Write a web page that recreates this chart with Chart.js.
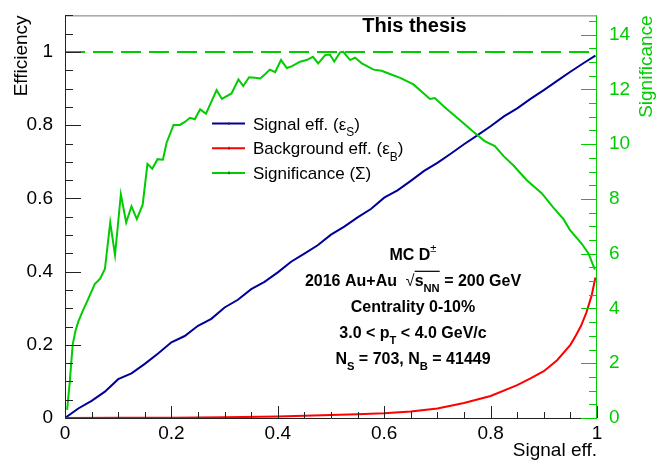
<!DOCTYPE html>
<html lang="en">
<head>
    <meta charset="UTF-8" />
    <title>Efficiency and significance vs signal efficiency</title>
    <script src="https://cdn.jsdelivr.net/npm/chart.js"></script>
    <style>
        body { margin: 0; background: #fff; }
        #wrap { width: 656px; height: 468px; position: relative; }
    </style>
</head>
<body>
<div id="wrap"><canvas id="grafico"></canvas></div>

<script>
    // === data ===
    const signalX   = [0, 0.025, 0.05, 0.075, 0.1, 0.125, 0.15, 0.175, 0.2, 0.225, 0.25, 0.275, 0.3, 0.325, 0.35, 0.375, 0.4, 0.425, 0.45, 0.475, 0.5, 0.525, 0.55, 0.575, 0.6, 0.625, 0.65, 0.675, 0.7, 0.725, 0.75, 0.775, 0.8, 0.825, 0.85, 0.875, 0.9, 0.925, 0.95, 0.975, 0.997];
    const signalEff = [0, 0.026, 0.047, 0.072, 0.106, 0.122, 0.148, 0.176, 0.207, 0.224, 0.252, 0.271, 0.302, 0.323, 0.352, 0.372, 0.398, 0.427, 0.449, 0.472, 0.501, 0.523, 0.548, 0.571, 0.602, 0.622, 0.648, 0.675, 0.697, 0.722, 0.748, 0.772, 0.797, 0.824, 0.846, 0.872, 0.896, 0.921, 0.946, 0.970, 0.990];

    const bkgX   = [0, 0.1, 0.2, 0.3, 0.4, 0.45, 0.5, 0.55, 0.6, 0.65, 0.7, 0.75, 0.8, 0.85, 0.875, 0.9, 0.925, 0.95, 0.96, 0.97, 0.98, 0.99, 0.997];
    const bkgEff = [0, 0.0005, 0.001, 0.002, 0.004, 0.006, 0.008, 0.010, 0.013, 0.018, 0.026, 0.041, 0.060, 0.090, 0.108, 0.128, 0.158, 0.200, 0.225, 0.252, 0.288, 0.335, 0.384];

    const signifX = [0.004, 0.009, 0.0145, 0.02, 0.025, 0.034, 0.041, 0.056, 0.066, 0.075, 0.085, 0.094, 0.105, 0.115, 0.125, 0.135, 0.146, 0.155, 0.164, 0.174, 0.184, 0.191, 0.204, 0.216, 0.226, 0.235, 0.244, 0.254, 0.265, 0.285, 0.295, 0.313, 0.326, 0.335, 0.346, 0.357, 0.367, 0.376, 0.385, 0.395, 0.406, 0.417, 0.426, 0.442, 0.454, 0.466, 0.476, 0.489, 0.498, 0.506, 0.517, 0.523, 0.536, 0.545, 0.558, 0.58, 0.595, 0.612, 0.63, 0.655, 0.686, 0.695, 0.717, 0.742, 0.767, 0.789, 0.808, 0.824, 0.843, 0.868, 0.896, 0.918, 0.937, 0.949, 0.971, 0.984, 0.996];
    const signifY = [0.3, 1.33, 2.69, 3.2, 3.52, 3.94, 4.23, 4.89, 5.09, 5.44, 7.14, 5.95, 8.17, 7.14, 7.73, 7.26, 7.79, 9.28, 9.1, 9.45, 9.43, 10.05, 10.7, 10.7, 10.82, 10.96, 10.91, 11.27, 11.11, 11.97, 11.65, 11.85, 12.36, 12.12, 12.44, 12.42, 12.4, 12.55, 12.72, 12.63, 13.07, 12.78, 12.84, 13.01, 13.07, 13.19, 12.95, 13.25, 13.27, 13.01, 13.35, 13.37, 13.07, 13.16, 12.95, 12.72, 12.68, 12.55, 12.42, 12.18, 11.65, 11.68, 11.29, 10.88, 10.46, 10.11, 9.93, 9.57, 9.22, 8.68, 8.21, 7.68, 7.26, 6.87, 6.37, 6.01, 5.42];

    const xTicks      = [0, 0.2, 0.4, 0.6, 0.8, 1];
    const effTicks    = [0, 0.2, 0.4, 0.6, 0.8, 1];
    const signifTicks = [0, 2, 4, 6, 8, 10, 12, 14];
    const refLevel    = 1;

    const FONT  = '"Liberation Sans", Arial, Helvetica, sans-serif';
    const BLUE  = '#000099';
    const RED   = '#ff0000';
    const GREEN = '#00cc00';

    const pts = (xs, ys) => xs.map((x, i) => ({ x: x, y: ys[i] }));
    const fmt = v => String(+v.toFixed(2));

    // draws text with sub/superscripts; parts = [text, 'sub'|'sup'|'', overline?, weight?]
    function richText(ctx, parts, x, y, size, weight, align) {
        const font = (p) => {
            const s = (p[1] === 'sub' || p[1] === 'sup') ? size * 0.7 : size;
            const w = p[3] === 'normal' ? 'normal' : weight;
            return w + ' ' + s + 'px ' + FONT;
        };
        const widths = parts.map(p => { ctx.font = font(p); return ctx.measureText(p[0]).width; });
        const total = widths.reduce((a, b) => a + b, 0);
        let cx = align === 'center' ? x - total / 2 : x;
        ctx.textAlign = 'left';
        ctx.textBaseline = 'alphabetic';
        let overStart = null;
        parts.forEach((p, i) => {
            ctx.font = font(p);
            const dy = p[1] === 'sub' ? size * 0.38 : p[1] === 'sup' ? -size * 0.45 : 0;
            ctx.fillText(p[0], cx, y + dy);
            if (p[2] && overStart === null) overStart = cx;
            if (!p[2] && overStart !== null) {
                ctx.fillRect(overStart, y - size * 0.93, cx - overStart, 1.2);
                overStart = null;
            }
            cx += widths[i];
        });
    }

    const rootPlugin = {
        id: 'rootStyle',
        afterDatasetsDraw(chart) {
            const { ctx, chartArea: a, scales } = chart;
            const sx = scales.x, sy = scales.y, sy2 = scales.y2;
            ctx.save();
            ctx.lineWidth = 1;

            // frame
            ctx.strokeStyle = '#777';
            ctx.beginPath(); ctx.moveTo(a.left, a.top + 0.5); ctx.lineTo(a.right, a.top + 0.5); ctx.stroke();
            ctx.strokeStyle = '#222';
            ctx.beginPath(); ctx.moveTo(a.left + 0.5, a.top); ctx.lineTo(a.left + 0.5, a.bottom + 0.5); ctx.lineTo(a.right, a.bottom + 0.5); ctx.stroke();

            // x ticks
            for (let i = 0; i <= 20; i++) {
                const px = Math.round(sx.getPixelForValue(i * 0.05)) + 0.5;
                const len = i % 4 === 0 ? 12 : 6;
                ctx.beginPath(); ctx.moveTo(px, a.bottom); ctx.lineTo(px, a.bottom - len); ctx.stroke();
            }
            // left ticks
            for (let i = 0; i <= 22; i++) {
                const py = Math.round(sy.getPixelForValue(i * 0.05)) + 0.5;
                const len = i % 4 === 0 ? 16 : 8;
                ctx.beginPath(); ctx.moveTo(a.left, py); ctx.lineTo(a.left + len, py); ctx.stroke();
            }
            // right axis in green
            ctx.strokeStyle = GREEN;
            ctx.beginPath(); ctx.moveTo(a.right - 0.5, a.top); ctx.lineTo(a.right - 0.5, a.bottom + 1); ctx.stroke();
            for (let i = 0; i <= 29; i++) {
                const py = Math.round(sy2.getPixelForValue(i * 0.5)) + 0.5;
                const len = i % 4 === 0 ? 16 : 8;
                ctx.beginPath(); ctx.moveTo(a.right, py); ctx.lineTo(a.right - len, py); ctx.stroke();
            }

            // axis titles
            ctx.fillStyle = '#000';
            ctx.font = '19px ' + FONT;
            ctx.textAlign = 'right';
            ctx.textBaseline = 'alphabetic';
            ctx.fillText('Signal eff.', a.right, 456);

            ctx.save();
            ctx.translate(27, a.top);
            ctx.rotate(-Math.PI / 2);
            ctx.fillText('Efficiency', 0, 0);
            ctx.restore();

            ctx.save();
            ctx.fillStyle = GREEN;
            ctx.translate(652, a.top);
            ctx.rotate(-Math.PI / 2);
            ctx.fillText('Significance', 0, 0);
            ctx.restore();

            // header
            ctx.fillStyle = '#000';
            ctx.font = 'bold 20px ' + FONT;
            ctx.textAlign = 'center';
            ctx.fillText('This thesis', 414.5, 32);

            // legend
            const legend = [
                [BLUE,  [['Signal eff. (\u03b5', ''], ['S', 'sub'], [')', '']]],
                [RED,   [['Background eff. (\u03b5', ''], ['B', 'sub'], [')', '']]],
                [GREEN, [['Significance (\u03a3)', '']]]
            ];
            legend.forEach((item, i) => {
                const ly = 123.5 + i * 24.7;
                ctx.strokeStyle = item[0];
                ctx.lineWidth = 2;
                ctx.beginPath(); ctx.moveTo(212, ly); ctx.lineTo(245, ly); ctx.stroke();
                ctx.fillStyle = '#333';
                ctx.fillRect(228.5, ly - 1.5, 1, 3);
                ctx.fillStyle = '#000';
                richText(ctx, item[1], 253, ly + 6, 17, 'normal', 'left');
            });

            // info block
            const info = [
                [['MC D', ''], ['\u00b1', 'sup', false, 'normal']],
                [['2016 Au+Au  ', ''], ['\u221a', '', false, 'normal'], ['s', '', true], ['NN', 'sub', true], [' = 200 GeV', '']],
                [['Centrality 0-10%', '']],
                [['3.0 < p', ''], ['T', 'sub'], [' < 4.0 GeV/c', '']],
                [['N', ''], ['S', 'sub'], [' = 703, N', ''], ['B', 'sub'], [' = 41449', '']]
            ];
            info.forEach((line, i) => {
                richText(ctx, line, 413, 259.5 + i * 26.1, 16, 'bold', 'center');
            });

            ctx.restore();
        }
    };

    new Chart(document.getElementById('grafico'), {
        type: 'scatter',
        data: {
            datasets: [
                {
                    label: 'Signal eff.',
                    data: pts(signalX, signalEff),
                    borderColor: BLUE,
                    borderWidth: 2,
                    showLine: true,
                    pointRadius: 0,
                    yAxisID: 'y',
                    order: 4
                },
                {
                    label: 'Background eff.',
                    data: pts(bkgX, bkgEff),
                    borderColor: RED,
                    borderWidth: 2,
                    showLine: true,
                    pointRadius: 0,
                    yAxisID: 'y',
                    order: 3
                },
                {
                    label: 'Significance',
                    data: pts(signifX, signifY),
                    borderColor: GREEN,
                    borderWidth: 2,
                    showLine: true,
                    pointRadius: 0,
                    yAxisID: 'y2',
                    order: 2
                },
                {
                    label: 'max',
                    data: pts([0, 1], [refLevel, refLevel]),
                    borderColor: GREEN,
                    borderWidth: 2,
                    borderDash: [20, 8],
                    showLine: true,
                    pointRadius: 0,
                    yAxisID: 'y',
                    order: 1
                }
            ]
        },
        options: {
            responsive: true,
            maintainAspectRatio: false,
            animation: false,
            layout: { padding: { top: 5, left: 0, right: 0, bottom: 0 } },
            plugins: { legend: { display: false }, tooltip: { enabled: false } },
            scales: {
                x: {
                    type: 'linear',
                    min: 0,
                    max: 1,
                    grid: { display: false },
                    border: { display: false },
                    afterBuildTicks: s => { s.ticks = xTicks.map(v => ({ value: v })); },
                    afterFit: s => { s.height = 50; },
                    ticks: { callback: fmt, autoSkip: false, maxRotation: 0, padding: -4, color: '#000', font: { family: FONT, size: 19 } }
                },
                y: {
                    position: 'left',
                    min: 0,
                    max: 1.1,
                    grid: { display: false },
                    border: { display: false },
                    afterBuildTicks: s => { s.ticks = effTicks.map(v => ({ value: v })); },
                    afterFit: s => { s.width = 65; },
                    ticks: { callback: fmt, autoSkip: false, padding: 4, color: '#000', font: { family: FONT, size: 19 } }
                },
                y2: {
                    position: 'right',
                    min: 0,
                    max: 14.7,
                    grid: { display: false },
                    border: { display: false },
                    afterBuildTicks: s => { s.ticks = signifTicks.map(v => ({ value: v })); },
                    afterFit: s => { s.width = 59; },
                    ticks: { callback: fmt, autoSkip: false, padding: 4, color: GREEN, font: { family: FONT, size: 19 } }
                }
            }
        },
        plugins: [rootPlugin]
    });
</script>
</body>
</html>
